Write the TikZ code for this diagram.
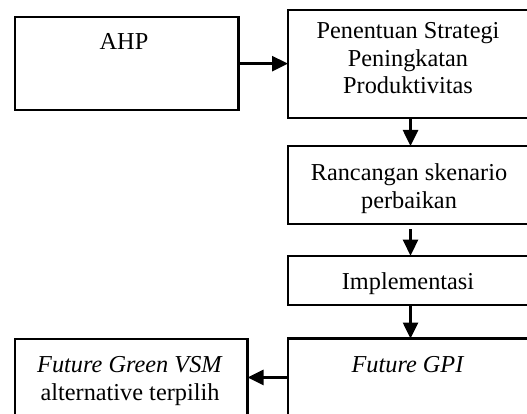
\documentclass[tikz,border=0pt]{standalone}
\usepackage{fontspec}
\setmainfont{Liberation Serif}
\usetikzlibrary{arrows.meta}
\begin{document}
\begin{tikzpicture}[x=1pt,y=-1pt,
  boxn/.style={draw=black,line width=2.2pt,rectangle,inner sep=0pt,outer sep=0pt,anchor=north west},
  txt/.style={inner sep=0pt,anchor=base,align=center,font=\fontsize{24.3pt}{27.5pt}\selectfont},
  arr/.style={line width=2.6pt,-{Triangle[length=16pt,width=15pt]}}]
\useasboundingbox (0,0) rectangle (527,414);
\clip (0,0) rectangle (527,414);
\node[boxn,minimum width=223.5pt,minimum height=92.7pt] (ahp) at (15,17.3) {};
\node[boxn,minimum width=245pt,minimum height=108.3pt] (strat) at (288,10) {};
\node[boxn,minimum width=245pt,minimum height=78pt] (ranc) at (288,146) {};
\node[boxn,minimum width=245pt,minimum height=49.3pt] (impl) at (288,255.7) {};
\node[boxn,minimum width=245pt,minimum height=77.9pt] (gpi) at (288,338.5) {};
\node[boxn,minimum width=232.5pt,minimum height=77.4pt] (vsm) at (15,339) {};
\node[txt] (tahp) at (124,49.3) {AHP};
\node[txt] (tstrat) at (408,94) {Penentuan Strategi\\Peningkatan\\Produktivitas};
\node[txt] (tranc) at (409,208.3) {Rancangan skenario\\perbaikan};
\node[txt] (timpl) at (408,289.3) {Implementasi};
\node[txt] (tgpi) at (408,372.7) {\textit{Future GPI}};
\node[txt] (tvsm) at (130,400) {\textit{Future Green VSM}\\alternative terpilih};
\draw[arr] (ahp.east) -- (ahp.east -| strat.west);
\draw[arr] (strat.south) -- (ranc.north);
\draw[arr] ([yshift=-5pt]ranc.south) -- (impl.north);
\draw[arr] (impl.south) -- (gpi.north);
\draw[arr] (gpi.west) -- (gpi.west -| vsm.east);
\end{tikzpicture}
\end{document}
